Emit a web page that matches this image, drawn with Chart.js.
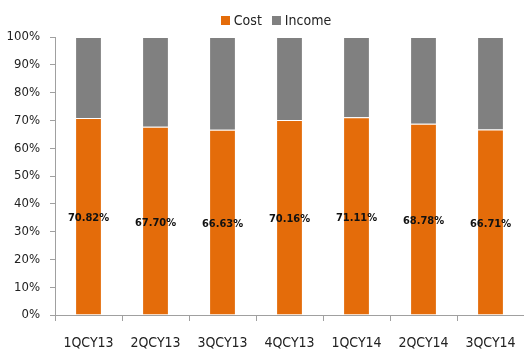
<!DOCTYPE html>
<html>
<head>
<meta charset="utf-8">
<script src="https://cdn.jsdelivr.net/npm/chart.js@4"></script>
<style>
  html, body { margin: 0; padding: 0; background: #fff; }
  #wrap { position: relative; width: 524px; height: 351px; }
  #legend {
    position: absolute; top: 11px; left: 22px; width: 508px;
    text-align: center; font: 14px 'Liberation Sans Narrow', 'DejaVu Sans Condensed', sans-serif;
    color: #222; line-height: 18px;
  }
  #legend span.item { display: inline-block; margin: 0 5px; }
  #legend i { display: inline-block; width: 9px; height: 9px; margin-right: 4px; vertical-align: 0px; }
</style>
</head>
<body>
<div id="wrap">
  <div id="legend"></div>
  <canvas id="chart" width="524" height="351"></canvas>
</div>
<script>
  // Quarterly cost share of income
  var quarters = ['1QCY13', '2QCY13', '3QCY13', '4QCY13', '1QCY14', '2QCY14', '3QCY14'];
  var costPct = [70.82, 67.70, 66.63, 70.16, 71.11, 68.78, 66.71];
  var incomePct = costPct.map(function(v) { return +(100 - v).toFixed(2); });
  var yTicks = [0, 10, 20, 30, 40, 50, 60, 70, 80, 90, 100];

  var FONT = "'Liberation Sans Narrow', 'DejaVu Sans Condensed', sans-serif";

  // Write the cost percentage in the middle of each orange bar
  var costLabels = {
    id: 'costLabels',
    afterDatasetsDraw: function(chart) {
      var ctx = chart.ctx;
      var meta = chart.getDatasetMeta(0);
      ctx.save();
      ctx.font = 'bold 11px ' + FONT;
      ctx.fillStyle = '#111';
      ctx.textAlign = 'center';
      ctx.textBaseline = 'middle';
      meta.data.forEach(function(bar, i) {
        var mid = (bar.y + bar.base) / 2;
        ctx.fillText(costPct[i].toFixed(2) + '%', bar.x, mid + 2);
      });
      ctx.restore();
    }
  };

  var chart = new Chart(document.getElementById('chart').getContext('2d'), {
    type: 'bar',
    data: {
      labels: quarters,
      datasets: [
        {
          label: 'Cost',
          data: costPct,
          backgroundColor: '#e46c0a',
          borderColor: 'rgba(255,255,255,0.45)',
          borderWidth: 1,
          categoryPercentage: 1,
          barPercentage: 0.4
        },
        {
          label: 'Income',
          data: incomePct,
          backgroundColor: '#808080',
          borderColor: 'rgba(255,255,255,0.45)',
          borderWidth: 1,
          categoryPercentage: 1,
          barPercentage: 0.4
        }
      ]
    },
    options: {
      responsive: false,
      animation: false,
      layout: { padding: { top: 37, right: 0, left: 0, bottom: 0 } },
      plugins: {
        legend: { display: false },
        tooltip: { enabled: false }
      },
      scales: {
        x: {
          stacked: true,
          grid: { drawOnChartArea: false, tickLength: 6, color: '#a0a0a0' },
          border: { color: '#a0a0a0' },
          ticks: { color: '#222', padding: 14, font: { family: FONT, size: 14 } },
          afterFit: function(scale) {
            scale.height = 36;
            scale.paddingLeft = 0;
            scale.paddingRight = 0;
          }
        },
        y: {
          stacked: true,
          min: 0,
          max: 100,
          afterBuildTicks: function(scale) {
            scale.ticks = yTicks.map(function(v) { return { value: v }; });
          },
          grid: { drawOnChartArea: false, tickLength: 5, color: '#a0a0a0' },
          border: { color: '#a0a0a0' },
          ticks: {
            color: '#222',
            padding: 10,
            font: { family: FONT, size: 13 },
            callback: function(v) { return v + '%'; }
          },
          afterFit: function(scale) { scale.width = 55; }
        }
      }
    },
    plugins: [costLabels]
  });

  // Legend built from the dataset colours
  var legendEl = document.getElementById('legend');
  chart.data.datasets.forEach(function(ds) {
    var item = document.createElement('span');
    item.className = 'item';
    var sw = document.createElement('i');
    sw.style.background = ds.backgroundColor;
    item.appendChild(sw);
    item.appendChild(document.createTextNode(ds.label));
    legendEl.appendChild(item);
  });
</script>
</body>
</html>
